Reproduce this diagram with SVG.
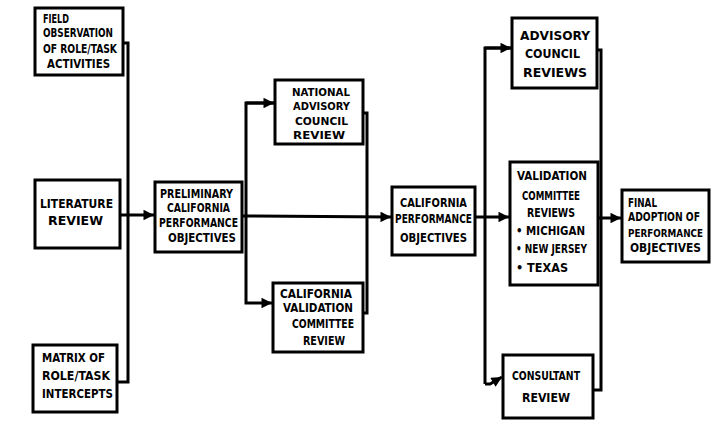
<svg xmlns="http://www.w3.org/2000/svg" width="711" height="427" viewBox="0 0 711 427">
<defs>
<style>
.box{fill:#fff;stroke:#000;stroke-width:3}
.ln{fill:none;stroke:#000;stroke-width:3}
.t{font-family:"DejaVu Sans Condensed","DejaVu Sans",sans-serif;font-stretch:condensed;font-weight:bold;font-size:12px;fill:#000}
.s{font-size:11px}
.xs{font-size:10.5px}
</style>
<marker id="ah" viewBox="0 0 10 10" refX="10" refY="5" markerWidth="5" markerHeight="3.5" markerUnits="strokeWidth" orient="auto">
<path d="M0,0 L10,5 L0,10 z" fill="#000"/>
</marker>
</defs>
<rect width="711" height="427" fill="#fff"/>
<g id="connectors">
<polyline class="ln" points="123,43 128,43 128,382 117,382"/>
<line class="ln" x1="120" y1="215" x2="154" y2="215" marker-end="url(#ah)"/>
<line class="ln" x1="242" y1="216" x2="391" y2="217" marker-end="url(#ah)"/>
<polyline class="ln" points="274,103 246,103 246,303 272,303" marker-end="url(#ah)"/>
<line class="ln" x1="246" y1="103" x2="274" y2="103" marker-end="url(#ah)"/>
<polyline class="ln" points="363,113 367,113 367,313 363,313"/>
<line class="ln" x1="475" y1="217" x2="509" y2="217" marker-end="url(#ah)"/>
<polyline class="ln" points="511,48 485,48 485,384"/>
<line class="ln" x1="485" y1="48" x2="511" y2="48" marker-end="url(#ah)"/>
<path class="ln" d="M485,384 L490,384 L502,377" marker-end="url(#ah)"/>
<polyline class="ln" points="597,50 601,50 601,390 593,390"/>
<line class="ln" x1="598" y1="218" x2="621" y2="218" marker-end="url(#ah)"/>
</g>
<g id="field-observation">
<rect class="box" x="35" y="8" width="88" height="67"/>
<text class="t" x="43" y="23" textLength="26" lengthAdjust="spacingAndGlyphs">FIELD</text>
<text class="t" x="43" y="37" textLength="70" lengthAdjust="spacingAndGlyphs">OBSERVATION</text>
<text class="t" x="43" y="53" textLength="74" lengthAdjust="spacingAndGlyphs">OF ROLE/TASK</text>
<text class="t" x="47" y="68" textLength="63" lengthAdjust="spacingAndGlyphs">ACTIVITIES</text>
</g>
<g id="literature-review">
<rect class="box" x="35" y="180" width="85" height="68"/>
<text class="t" x="40" y="208" textLength="73" lengthAdjust="spacingAndGlyphs">LITERATURE</text>
<text class="t" x="48" y="225" textLength="55" lengthAdjust="spacingAndGlyphs">REVIEW</text>
</g>
<g id="matrix">
<rect class="box" x="33" y="345" width="84" height="67"/>
<text class="t" x="42" y="362" textLength="63" lengthAdjust="spacingAndGlyphs">MATRIX OF</text>
<text class="t" x="42" y="380" textLength="68" lengthAdjust="spacingAndGlyphs">ROLE/TASK</text>
<text class="t" x="42" y="398" textLength="71" lengthAdjust="spacingAndGlyphs">INTERCEPTS</text>
</g>
<g id="preliminary">
<rect class="box" x="155" y="182" width="87" height="70"/>
<text class="t" x="160" y="198" textLength="73" lengthAdjust="spacingAndGlyphs">PRELIMINARY</text>
<text class="t" x="167" y="212" textLength="63" lengthAdjust="spacingAndGlyphs">CALIFORNIA</text>
<text class="t" x="159" y="227" textLength="79" lengthAdjust="spacingAndGlyphs">PERFORMANCE</text>
<text class="t" x="168" y="242" textLength="68" lengthAdjust="spacingAndGlyphs">OBJECTIVES</text>
</g>
<g id="national-advisory">
<rect class="box" x="275" y="80" width="88" height="64"/>
<text class="t s" x="292" y="96" textLength="58" lengthAdjust="spacingAndGlyphs">NATIONAL</text>
<text class="t s" x="293" y="110" textLength="57" lengthAdjust="spacingAndGlyphs">ADVISORY</text>
<text class="t s" x="295" y="125" textLength="53" lengthAdjust="spacingAndGlyphs">COUNCIL</text>
<text class="t s" x="293" y="139" textLength="52" lengthAdjust="spacingAndGlyphs">REVIEW</text>
</g>
<g id="california-validation">
<rect class="box" x="273" y="283" width="90" height="69"/>
<text class="t" x="280" y="298" textLength="72" lengthAdjust="spacingAndGlyphs">CALIFORNIA</text>
<text class="t" x="283" y="312" textLength="70" lengthAdjust="spacingAndGlyphs">VALIDATION</text>
<text class="t" x="292" y="328" textLength="62" lengthAdjust="spacingAndGlyphs">COMMITTEE</text>
<text class="t" x="303" y="345" textLength="42" lengthAdjust="spacingAndGlyphs">REVIEW</text>
</g>
<g id="california-performance">
<rect class="box" x="392" y="187" width="83" height="68"/>
<text class="t" x="400" y="207" textLength="67" lengthAdjust="spacingAndGlyphs">CALIFORNIA</text>
<text class="t" x="395" y="223" textLength="77" lengthAdjust="spacingAndGlyphs">PERFORMANCE</text>
<text class="t" x="400" y="242" textLength="67" lengthAdjust="spacingAndGlyphs">OBJECTIVES</text>
</g>
<g id="advisory-council">
<rect class="box" x="512" y="18" width="85" height="70"/>
<text class="t" x="520" y="40" textLength="70" lengthAdjust="spacingAndGlyphs">ADVISORY</text>
<text class="t" x="525" y="58" textLength="55" lengthAdjust="spacingAndGlyphs">COUNCIL</text>
<text class="t" x="523" y="77" textLength="64" lengthAdjust="spacingAndGlyphs">REVIEWS</text>
</g>
<g id="validation-committee">
<rect class="box" x="510" y="162" width="88" height="123"/>
<text class="t" x="517" y="180" textLength="70" lengthAdjust="spacingAndGlyphs">VALIDATION</text>
<text class="t" x="522" y="200" textLength="58" lengthAdjust="spacingAndGlyphs">COMMITTEE</text>
<text class="t" x="527" y="217" textLength="48" lengthAdjust="spacingAndGlyphs">REVIEWS</text>
<text class="t" x="516" y="235" textLength="69" lengthAdjust="spacingAndGlyphs">• MICHIGAN</text>
<text class="t" x="516" y="253" textLength="71" lengthAdjust="spacingAndGlyphs">• NEW JERSEY</text>
<text class="t" x="516" y="272" textLength="52" lengthAdjust="spacingAndGlyphs">• TEXAS</text>
</g>
<g id="final-adoption">
<rect class="box" x="622" y="190" width="87" height="72"/>
<text class="t" x="628" y="207" textLength="29" lengthAdjust="spacingAndGlyphs">FINAL</text>
<text class="t" x="628" y="221" textLength="72" lengthAdjust="spacingAndGlyphs">ADOPTION OF</text>
<text class="t xs" x="628" y="237" textLength="75" lengthAdjust="spacingAndGlyphs">PERFORMANCE</text>
<text class="t" x="630" y="252" textLength="71" lengthAdjust="spacingAndGlyphs">OBJECTIVES</text>
</g>
<g id="consultant-review">
<rect class="box" x="503" y="355" width="90" height="63"/>
<text class="t" x="512" y="380" textLength="68" lengthAdjust="spacingAndGlyphs">CONSULTANT</text>
<text class="t" x="522" y="402" textLength="48" lengthAdjust="spacingAndGlyphs">REVIEW</text>
</g>
</svg>
